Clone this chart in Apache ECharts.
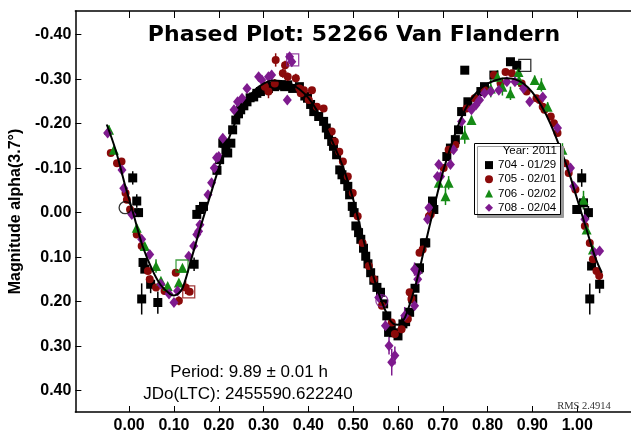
<!DOCTYPE html>
<html><head><meta charset="utf-8">
<script src="https://cdn.jsdelivr.net/npm/echarts@6/dist/echarts.min.js"></script>
<style>html,body{margin:0;padding:0;background:#fff}#c{width:631px;height:434px}</style>
</head><body><div id="c"></div>
<script>
// ---- data ----
const xTicks = [0.0,0.1,0.2,0.3,0.4,0.5,0.6,0.7,0.8,0.9,1.0];
const yTicks = [-0.4,-0.3,-0.2,-0.1,0.0,0.1,0.2,0.3,0.4];
const seriesNames = ['704 - 01/29','705 - 02/01','706 - 02/02','708 - 02/04'];
const legendHeader = 'Year: 2011';
const titleText = 'Phased Plot: 52266 Van Flandern';
const yName = 'Magnitude alpha(3.7\u00b0)';
const periodText = 'Period: 9.89 \u00b1 0.01 h';
const jdText = 'JDo(LTC): 2455590.622240';
const rmsText = 'RMS 2.4914';

// [phase, magnitude, error]
const s704 = [
[0.008,-0.078,0.015],[0.017,-0.026,0.015],[0.021,0.000,0.01],[0.031,0.112,0],[0.035,0.127,0],[0.048,0.161,0.02],
[0.028,0.194,0.035],[0.064,0.202,0.025],[0.145,0.116,0.015],[0.151,0.004,0],[0.158,-0.007,0],[0.166,-0.014,0],
[0.196,-0.095,0],[0.202,-0.119,0],[0.209,-0.156,0],[0.213,-0.156,0],[0.216,-0.141,0],[0.220,-0.134,0],[0.227,-0.156,0],[0.231,-0.186,0],
[0.238,-0.208,0],[0.244,-0.222,0],[0.249,-0.231,0],[0.256,-0.240,0],[0.263,-0.249,0],[0.270,-0.258,0],[0.278,-0.260,0],[0.285,-0.268,0],[0.293,-0.272,0],[0.302,-0.276,0],[0.311,-0.279,0],[0.318,-0.284,0],[0.325,-0.283,0],
[0.333,-0.286,0],[0.340,-0.287,0],[0.347,-0.283,0],[0.354,-0.287,0],[0.365,-0.279,0],[0.380,-0.283,0],[0.392,-0.262,0],[0.398,-0.257,0],[0.405,-0.243,0],[0.412,-0.227,0],[0.423,-0.216,0],
[0.434,-0.205,0],[0.440,-0.190,0],[0.445,-0.175,0],[0.452,-0.160,0],[0.456,-0.149,0],[0.463,-0.130,0],[0.470,-0.096,0],[0.475,-0.085,0],[0.481,-0.074,0],[0.488,-0.059,0],[0.492,-0.040,0],
[0.498,-0.014,0],[0.502,0.000,0],[0.506,0.030,0],[0.512,0.045,0],[0.517,0.060,0],[0.523,0.080,0],[0.528,0.098,0],[0.533,0.115,0],[0.539,0.135,0],[0.546,0.152,0],[0.553,0.168,0],[0.561,0.179,0],
[0.568,0.205,0],[0.575,0.232,0],[0.579,0.269,0],[0.585,0.260,0],[0.590,0.270,0],[0.600,0.277,0],[0.611,0.250,0],[0.617,0.245,0],[0.626,0.224,0],[0.633,0.194,0],[0.638,0.170,0],[0.645,0.127,0],
[0.648,0.124,0],[0.659,0.068,0],[0.662,0.068,0],[0.677,-0.026,0],[0.680,-0.007,0],[0.709,-0.126,0],[0.717,-0.145,0],
[0.728,-0.164,0],[0.735,-0.186,0],[0.742,-0.227,0],[0.749,-0.320,0],[0.756,-0.249,0],[0.785,-0.272,0],[0.793,-0.283,0],
[0.814,-0.309,0],[0.851,-0.339,0],[0.865,-0.331,0],[1.010,-0.078,0.02],[0.999,-0.007,0],[1.014,-0.022,0.015],
[1.025,0.000,0.015],[1.032,0.120,0],[1.050,0.161,0.02],[1.028,0.194,0.035]
];
const s705 = [
[-0.041,-0.134,0],[-0.027,-0.111,0],[-0.017,-0.115,0],[-0.008,-0.044,0],[-0.005,-0.029,0],[0.002,-0.007,0],[0.017,0.049,0],
[0.028,0.075,0],[0.042,0.131,0],[0.046,0.150,0],[0.060,0.168,0],[0.079,0.176,0],[0.104,0.135,0],[0.111,0.198,0.01],
[0.126,0.168,0.015],[0.135,0.178,0],
[0.303,-0.283,0.01],[0.311,-0.272,0.015],[0.325,-0.290,0.01],[0.327,-0.343,0.015],[0.343,-0.313,0.01],[0.348,-0.331,0.01],
[0.354,-0.305,0.01],[0.372,-0.302,0.01],[0.380,-0.279,0.01],[0.383,-0.268,0],[0.390,-0.275,0],[0.401,-0.253,0],[0.408,-0.275,0],
[0.419,-0.238,0],[0.434,-0.234,0],[0.452,-0.182,0],[0.459,-0.160,0],[0.469,-0.137,0],[0.477,-0.115,0],[0.488,-0.081,0],
[0.499,-0.044,0],[0.510,0.008,0],[0.521,0.068,0],[0.535,0.120,0],[0.546,0.150,0],[0.564,0.209,0],[0.586,0.247,0],
[0.593,0.273,0.01],[0.608,0.262,0.01],[0.622,0.239,0],[0.626,0.179,0],[0.630,0.194,0],[0.648,0.090,0],[0.655,0.083,0],
[0.669,0.008,0],[0.673,0.004,0],[0.702,-0.100,0],[0.713,-0.141,0],[0.728,-0.152,0],[0.753,-0.234,0],[0.771,-0.257,0],
[0.793,-0.275,0],[0.814,-0.309,0],[0.829,-0.290,0],[0.840,-0.316,0],[0.854,-0.313,0],[0.876,-0.290,0],[0.887,-0.272,0],
[0.909,-0.257,0],[0.916,-0.253,0],[0.923,-0.238,0],[0.927,-0.231,0],[0.941,-0.216,0],[0.948,-0.201,0],[0.956,-0.179,0],
[0.963,-0.141,0],[0.974,-0.111,0],[0.981,-0.089,0],[0.996,-0.052,0],[1.017,0.030,0],[1.028,0.068,0],[1.035,0.105,0],
[1.043,0.131,0],[1.049,0.142,0.015]
];
const s706 = [
[-0.045,-0.186,0.01],[-0.034,-0.141,0],[0.017,0.034,0],[0.035,0.075,0],[0.060,0.120,0.015],[0.071,0.153,0],[0.086,0.165,0],
[0.111,0.157,0],[0.119,0.124,0],
[0.691,-0.067,0.015],[0.706,-0.037,0.02],[0.713,-0.067,0.015],[0.749,-0.175,0.02],[0.764,-0.208,0.01],[0.807,-0.279,0.02],
[0.822,-0.305,0.015],[0.833,-0.283,0.02],[0.851,-0.268,0.015],[0.869,-0.316,0.015],[0.870,-0.298,0.015],[0.905,-0.298,0.01],
[0.920,-0.287,0.015],[0.934,-0.238,0.01],[0.967,-0.141,0.015],[1.014,-0.029,0.02],[1.021,0.038,0],[1.035,0.083,0]
];
const s708 = [
[-0.048,-0.179,0],[-0.016,-0.096,0],[-0.012,-0.055,0],[0.006,0.004,0],[0.028,0.060,0],[0.046,0.094,0],[0.071,0.161,0],
[0.089,0.183,0],[0.100,0.202,0],[0.108,0.176,0],[0.133,0.098,0],[0.144,0.075,0],[0.151,0.049,0],[0.155,0.042,0],[0.158,0.027,0],
[0.176,-0.040,0],[0.184,-0.067,0],[0.190,-0.100,0],[0.195,-0.123,0],[0.200,-0.126,0],[0.209,-0.167,0],[0.234,-0.231,0],
[0.242,-0.249,0],[0.252,-0.257,0],[0.263,-0.279,0],[0.289,-0.305,0],[0.296,-0.298,0.01],[0.311,-0.305,0.01],[0.318,-0.309,0.01],
[0.353,-0.253,0],[0.358,-0.350,0],[0.363,-0.339,0.01],
[0.557,0.191,0.01],[0.572,0.254,0.015],[0.580,0.299,0.02],[0.586,0.336,0.03],[0.593,0.321,0.02],[0.615,0.232,0.02],
[0.637,0.209,0],[0.637,0.127,0.015],[0.644,0.135,0],[0.644,0.150,0],[0.666,0.015,0],[0.669,-0.011,0],[0.688,-0.081,0],
[0.691,-0.108,0],[0.695,-0.081,0],[0.717,-0.108,0],[0.724,-0.141,0],[0.742,-0.205,0],[0.764,-0.231,0],[0.774,-0.242,0],
[0.782,-0.253,0],[0.793,-0.268,0],[0.807,-0.272,0],[0.825,-0.275,0],[0.843,-0.294,0],[0.861,-0.294,0],[0.880,-0.279,0],
[0.894,-0.249,0],[0.923,-0.260,0],[0.956,-0.190,0],[0.985,-0.100,0],[0.992,-0.059,0],[1.017,0.015,0],[1.039,0.090,0],
[1.050,0.086,0]
];
// open (hollow) reference marks
const openSq704 = [[0.883,-0.331]];
const openCi704 = [[-0.009,-0.011]];
const openSq705 = [[0.133,0.178]];
const openSq706 = [[0.118,0.120]];
const openSq708 = [[0.365,-0.343]];
const openCi708 = [[0.564,0.198]];

// fitted curve
const fitX = [-0.05,-0.03,-0.01,0.00,0.01,0.03,0.05,0.07,0.09,0.10,0.11,0.12,0.14,0.16,0.18,0.20,0.22,0.24,0.26,0.28,0.30,
0.32,0.34,0.36,0.38,0.40,0.42,0.44,0.46,0.48,0.50,0.52,0.54,0.56,0.58,0.59,0.60,0.61,0.62,0.64,0.66,0.68,0.70,0.72,0.74,
0.76,0.78,0.80,0.82,0.84,0.86,0.88,0.90,0.92,0.94,0.96,0.98,1.00,1.02,1.04,1.055];
const fitY = [-0.198,-0.14,-0.065,-0.03,0.005,0.075,0.125,0.162,0.182,0.186,0.182,0.168,0.10,0.03,-0.035,-0.10,-0.16,-0.21,
-0.25,-0.275,-0.29,-0.297,-0.296,-0.29,-0.277,-0.258,-0.228,-0.19,-0.145,-0.095,-0.03,0.05,0.125,0.19,0.238,0.25,0.252,0.245,
0.225,0.16,0.075,-0.01,-0.09,-0.155,-0.21,-0.25,-0.275,-0.29,-0.298,-0.302,-0.30,-0.29,-0.27,-0.24,-0.2,-0.15,-0.095,-0.03,
0.035,0.10,0.135];

// ---- styling ----
const colors = ['#000000','#8b0a0a','#158a15','#7e1a8e'];
const shapes = ['rect','circle','triangle','diamond'];
const sizes = [9,8,10,[9,11]];
const pointSets = [s704,s705,s706,s708];

function errSeries(data, color){
  return {type:'custom', silent:true, z:1,
    data: data.filter(d=>d[2]>0),
    encode:{x:0,y:1},
    renderItem:(p,api)=>{
      const x=api.value(0), y=api.value(1), e=api.value(2);
      const a=api.coord([x,y-e]), b=api.coord([x,y+e]);
      return {type:'line', shape:{x1:a[0],y1:a[1],x2:b[0],y2:b[1]}, style:{stroke:color, lineWidth:1.5}};
    }};
}
const series = [];
pointSets.forEach((d,i)=>{
  series.push(errSeries(d, colors[i]));
});
pointSets.forEach((d,i)=>{
  series.push({type:'scatter', name:seriesNames[i], data:d.map(p=>[p[0],p[1]]), symbol:shapes[i], symbolSize:sizes[i],
    itemStyle:{color:colors[i], opacity:1}, z:2+i});
});
function openSeries(data, shape, color){
  return {type:'scatter', data, symbol:shape, symbolSize:12, silent:true, z:7,
    itemStyle:{color:'rgba(0,0,0,0)', borderColor:color, borderWidth:1.3}};
}
series.push(openSeries(openSq704,'rect',colors[0]));
series.push(openSeries(openCi704,'circle',colors[0]));
series.push(openSeries(openSq705,'rect',colors[1]));
series.push(openSeries(openSq706,'rect',colors[2]));
series.push(openSeries(openSq708,'rect',colors[3]));
series.push(openSeries(openCi708,'circle',colors[3]));
series.push({type:'line', data:fitX.map((x,i)=>[x,fitY[i]]), smooth:0.4, symbol:'none', silent:true, z:8,
  lineStyle:{color:'#000', width:2}});

const F = 'Liberation Sans, Arial, sans-serif';
const option = {
  animation:false,
  backgroundColor:'#ffffff',
  grid:{left:72, top:11, width:570, height:402, containLabel:false},
  xAxis:[{
    type:'value', min:-0.12, max:1.12, position:'bottom',
    axisLine:{show:true, onZero:false, lineStyle:{color:'#000', width:1.5}},
    axisTick:{show:true, inside:true, length:6, customValues:xTicks, lineStyle:{color:'#000', width:1}},
    axisLabel:{show:true, customValues:xTicks, formatter:v=>v.toFixed(2), color:'#000', fontFamily:F, fontWeight:'bold', fontSize:16, margin:6},
    splitLine:{show:false}
  },{
    type:'value', min:-0.12, max:1.12, position:'top',
    axisLine:{show:true, onZero:false, lineStyle:{color:'#000', width:1.5}},
    axisTick:{show:true, inside:true, length:7, customValues:xTicks, lineStyle:{color:'#000', width:1}},
    axisLabel:{show:false}, splitLine:{show:false}
  }],
  yAxis:{
    type:'value', inverse:true, min:-0.453, max:0.448,
    axisLine:{show:true, onZero:false, lineStyle:{color:'#000', width:1.5}},
    axisTick:{show:true, inside:true, length:6, customValues:yTicks, lineStyle:{color:'#000', width:1}},
    axisLabel:{show:true, customValues:yTicks, formatter:v=>v.toFixed(2), color:'#000', fontFamily:F, fontWeight:'bold', fontSize:16, margin:4},
    splitLine:{show:false},
    name:yName, nameLocation:'middle', nameRotate:90, nameGap:50,
    nameTextStyle:{color:'#000', fontFamily:F, fontWeight:'bold', fontSize:16}
  },
  legend:{
    data:seriesNames.map((n,i)=>({name:n, icon:shapes[i]})),
    orient:'vertical', left:485, top:158, itemWidth:8, itemHeight:8, itemGap:0, padding:0,
    textStyle:{color:'#000', fontFamily:F, fontSize:11.5, lineHeight:14.2},
    selectedMode:false, z:20
  },
  graphic:[
    {type:'text', x:354, y:35, z:30, style:{text:titleText, fill:'#000', font:'bold 22px "DejaVu Sans", sans-serif', textAlign:'center', textVerticalAlign:'middle'}},
    {type:'rect', z:15, shape:{x:474.5, y:143.5, width:86, height:71},
      style:{fill:'#fff', stroke:'#000', lineWidth:1, shadowColor:'#9a9a9a', shadowOffsetX:3, shadowOffsetY:3, shadowBlur:0}},
    {type:'text', x:557, y:151, z:30, style:{text:legendHeader, fill:'#000', font:'11.5px "Liberation Sans", Arial, sans-serif', textAlign:'right', textVerticalAlign:'middle'}},
    {type:'text', x:249, y:372, z:30, style:{text:periodText, fill:'#000', font:'17px "Liberation Sans", Arial, sans-serif', textAlign:'center', textVerticalAlign:'middle'}},
    {type:'text', x:248, y:394, z:30, style:{text:jdText, fill:'#000', font:'17px "Liberation Sans", Arial, sans-serif', textAlign:'center', textVerticalAlign:'middle'}},
    {type:'text', x:584, y:406, z:30, style:{text:rmsText, fill:'#333', font:'10.5px "Liberation Serif", "Times New Roman", serif', textAlign:'center', textVerticalAlign:'middle'}}
  ],
  series
};
const chart = echarts.init(document.getElementById('c'), null, {renderer:'canvas'});
chart.setOption(option);
</script>
</body></html>
